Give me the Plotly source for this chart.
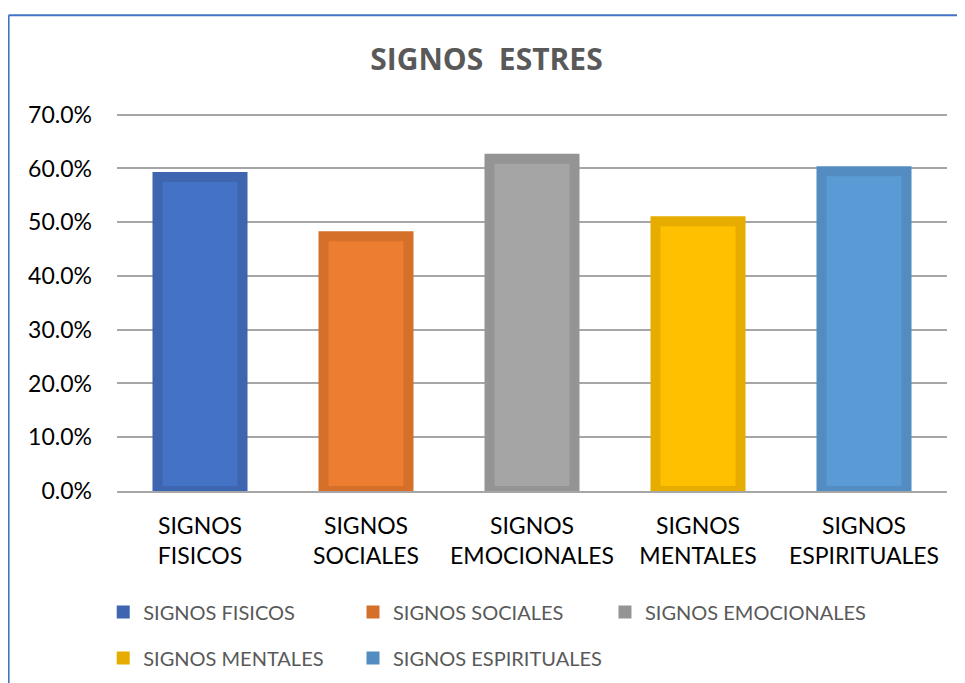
import plotly.graph_objects as go

categorias = ["SIGNOS FISICOS", "SIGNOS SOCIALES", "SIGNOS EMOCIONALES",
              "SIGNOS MENTALES", "SIGNOS ESPIRITUALES"]
etiquetas = ["SIGNOS<br>FISICOS", "SIGNOS<br>SOCIALES", "SIGNOS<br>EMOCIONALES",
             "SIGNOS<br>MENTALES", "SIGNOS<br>ESPIRITUALES"]
valores = [0.584, 0.474, 0.618, 0.502, 0.595]
ticks_y = [0, 0.1, 0.2, 0.3, 0.4, 0.5, 0.6, 0.7]

relleno = ["#4472C4", "#ED7D31", "#A5A5A5", "#FFC000", "#5B9BD5"]
borde = ["#3D65B0", "#D5702B", "#949494", "#E6AD00", "#528CC0"]

# posición de cada entrada de la leyenda (fracción de la figura)
pos_leyenda = [(0.0995, 0.1052), (0.3605, 0.1052), (0.6238, 0.1052),
               (0.0995, 0.0370), (0.3605, 0.0370)]

fig = go.Figure()

fig.add_trace(
    go.Bar(
        x=etiquetas,
        y=valores,
        width=0.512,
        marker=dict(color=relleno, line=dict(color=borde, width=10)),
        showlegend=False,
        hoverinfo="y",
    )
)

leyendas = {}
for i, nombre in enumerate(categorias):
    clave = "legend" if i == 0 else f"legend{i + 1}"
    fig.add_trace(
        go.Scatter(
            x=[None],
            y=[None],
            mode="markers",
            name=nombre,
            marker=dict(symbol="square", size=13, color=borde[i]),
            legend=clave,
        )
    )
    leyendas[clave] = dict(
        x=pos_leyenda[i][0],
        y=pos_leyenda[i][1],
        xref="container",
        yref="container",
        orientation="h",
        xanchor="left",
        yanchor="middle",
        font=dict(family="Lato", size=20, color="#595959"),
        bgcolor="rgba(0,0,0,0)",
        itemclick=False,
    )

# la página deja 8 px de margen, por eso la figura mide 957x675
fig.update_layout(
    width=957,
    height=675,
    margin=dict(l=108.5, r=18, t=104.3, b=192),
    paper_bgcolor="white",
    plot_bgcolor="white",
    font=dict(family="Lato", color="black"),
    title=dict(
        text="SIGNOS&nbsp;&nbsp;ESTRES",
        x=0.5,
        xanchor="center",
        y=0.923,
        yanchor="middle",
        font=dict(family="Open Sans", size=30, color="#595959", weight="bold"),
    ),
    bargap=0.488,
    xaxis=dict(
        showgrid=False,
        showline=True,
        linecolor="#A6A6A6",
        linewidth=1.5,
        tickfont=dict(family="Lato", size=23, color="black"),
        ticks="",
        ticklabelstandoff=14,
        automargin=False,
        fixedrange=True,
    ),
    yaxis=dict(
        range=[0, 0.705],
        tickvals=ticks_y,
        tickformat=".1%",
        showgrid=True,
        gridcolor="#A6A6A6",
        gridwidth=1.5,
        zeroline=False,
        showline=False,
        tickfont=dict(family="Lato", size=23, color="black"),
        ticks="",
        ticklabelstandoff=24,
        automargin=False,
        fixedrange=True,
    ),
    shapes=[
        dict(type="line", xref="paper", yref="paper",
             x0=-0.1306, x1=1.04, y0=1.2554, y1=1.2554,
             line=dict(color="#4472C4", width=2)),
        dict(type="line", xref="paper", yref="paper",
             x0=-0.1306, x1=-0.1306, y0=1.2554, y1=-0.55,
             line=dict(color="#4472C4", width=2)),
    ],
    **leyendas,
)

fig.write_html("out.html")
